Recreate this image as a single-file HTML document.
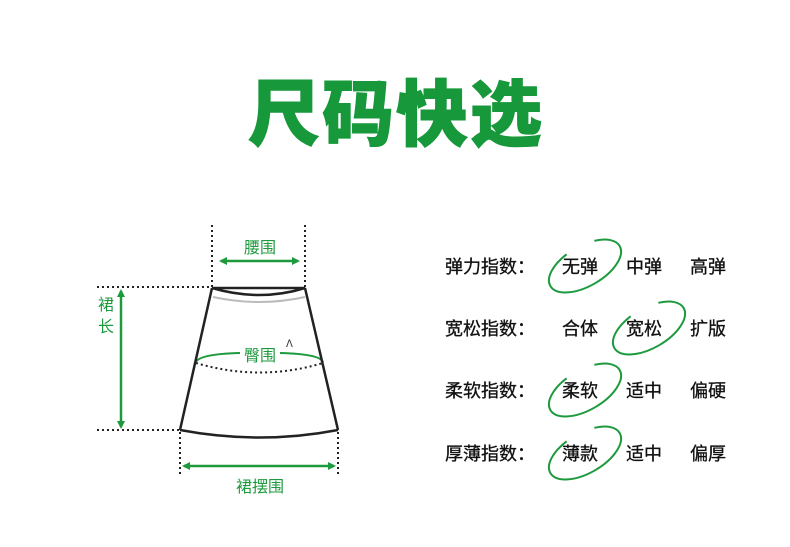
<!DOCTYPE html>
<html><head><meta charset="utf-8"><style>
body{margin:0;width:790px;height:542px;background:#fff;overflow:hidden;font-family:"Liberation Sans","Noto Sans CJK SC",sans-serif}
</style></head><body>
<svg width="790" height="542" viewBox="0 0 790 542" xmlns="http://www.w3.org/2000/svg" font-family="Liberation Sans, Noto Sans CJK SC, sans-serif">
<defs><marker id="a" markerWidth="8" markerHeight="8" refX="6" refY="4" orient="auto-start-reverse" markerUnits="userSpaceOnUse"><path d="M0,0 L8,4 L0,8 Z" fill="#1e9a3e"/></marker></defs>
<text x="396" y="140" text-anchor="middle" font-size="72" font-weight="900" fill="#17983a" stroke="#17983a" stroke-width="1" letter-spacing="2">尺码快选</text>
<g stroke="#222" stroke-width="2" stroke-dasharray="2,3" fill="none">
<line x1="212" y1="225" x2="212" y2="287"/><line x1="305" y1="225" x2="305" y2="287"/>
<line x1="97" y1="287" x2="212" y2="287"/><line x1="97" y1="430" x2="180" y2="430"/>
<line x1="180" y1="432" x2="180" y2="475"/><line x1="338" y1="432" x2="338" y2="475"/>
<path d="M196,363 Q260,382 323,363"/>
</g>
<g stroke="#1e9a3e" stroke-width="2.5" fill="none">
<line x1="221" y1="261" x2="298" y2="261" marker-start="url(#a)" marker-end="url(#a)"/>
<line x1="121" y1="291" x2="121" y2="427" marker-start="url(#a)" marker-end="url(#a)"/>
<line x1="184" y1="466" x2="334" y2="466" marker-start="url(#a)" marker-end="url(#a)"/>
<path d="M196,362 Q200,354 240,353 M280,353 Q320,354 323,362" stroke-width="2"/>
</g>
<path d="M213,297 Q260,307 305,297" stroke="#bbb" stroke-width="2" fill="none"/>
<g stroke="#222" stroke-width="2.5" fill="none">
<path d="M212,288 L305,288 Q260,302 212,288"/>
<line x1="212" y1="288" x2="180" y2="430"/><line x1="305" y1="288" x2="338" y2="430"/>
<path d="M180,430 Q260,445 338,430"/>
</g>
<text x="286" y="347" font-size="10" fill="#333">ⴷ</text>
<g fill="#1e9a3e" font-size="16" text-anchor="middle">
<text x="260" y="253">腰围</text>
<text x="260" y="361">臀围</text>
<text x="106" y="310">裙</text><text x="106" y="332">长</text>
<text x="260" y="492">裙摆围</text>
</g>
<g font-size="18" fill="#111" stroke="#111" stroke-width="0.3">
<text x="445" y="273">弹力指数：</text><text x="562" y="273">无弹</text><text x="626" y="273">中弹</text><text x="690" y="273">高弹</text>
<text x="445" y="335">宽松指数：</text><text x="562" y="335">合体</text><text x="626" y="335">宽松</text><text x="690" y="335">扩版</text>
<text x="445" y="397">柔软指数：</text><text x="562" y="397">柔软</text><text x="626" y="397">适中</text><text x="690" y="397">偏硬</text>
<text x="445" y="460">厚薄指数：</text><text x="562" y="460">薄款</text><text x="626" y="460">适中</text><text x="690" y="460">偏厚</text>
</g>
<g stroke="#1e9a3e" stroke-width="2" fill="none" stroke-dasharray="168 31" stroke-dashoffset="33">
<ellipse cx="585" cy="266" rx="40" ry="20" transform="rotate(-30 585 266)"/>
<ellipse cx="649" cy="328" rx="40" ry="20" transform="rotate(-30 649 328)"/>
<ellipse cx="585" cy="390" rx="40" ry="20" transform="rotate(-30 585 390)"/>
<ellipse cx="585" cy="453" rx="40" ry="20" transform="rotate(-30 585 453)"/>
</g>
</svg>
</body></html>
